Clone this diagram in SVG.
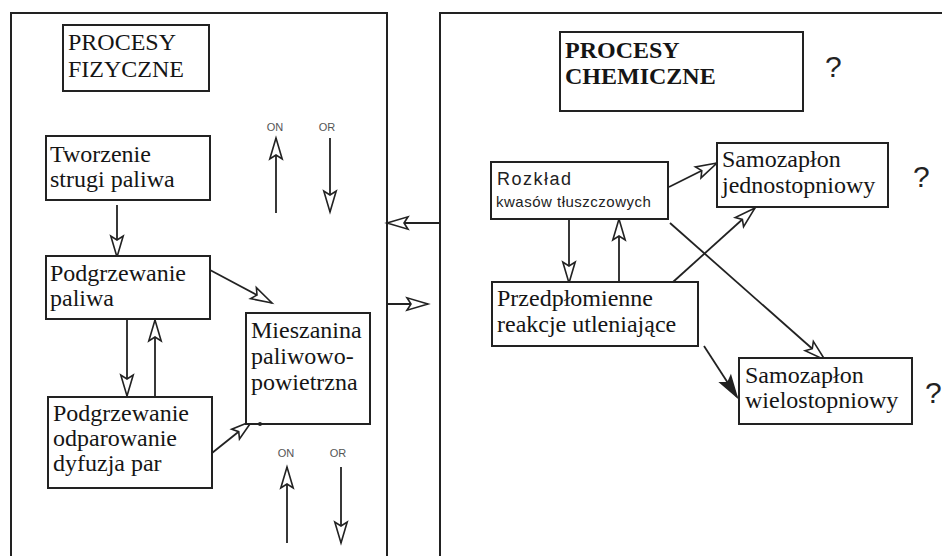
<svg xmlns="http://www.w3.org/2000/svg" width="942" height="556" viewBox="0 0 942 556">
<style>
.panel{fill:none;stroke:#222;stroke-width:2}
.box{fill:#fff;stroke:#222;stroke-width:2}
.t{font-family:"Liberation Serif","Times New Roman",serif;font-size:24px;fill:#151515}
.tb{font-family:"Liberation Serif","Times New Roman",serif;font-size:24px;font-weight:bold;fill:#151515}
.s{font-family:"Liberation Sans",Arial,sans-serif;fill:#222}
.lbl{font-family:"Liberation Sans",Arial,sans-serif;font-size:11px;fill:#555;text-anchor:middle}
.q{font-family:"Liberation Sans",Arial,sans-serif;font-size:30px;fill:#222}
.c{fill:none;stroke:#222;stroke-width:1.8}
.oa{marker-end:url(#open)}
.fa{marker-end:url(#filled)}
</style>
<defs>
<marker id="open" markerUnits="userSpaceOnUse" markerWidth="26" markerHeight="16" refX="22" refY="7" orient="auto" overflow="visible">
<path d="M22,7 L1,0.8 L5,7 L1,13.2 Z" fill="#fff" stroke="#222" stroke-width="1.6" stroke-linejoin="miter"/>
</marker>
<marker id="filled" markerUnits="userSpaceOnUse" markerWidth="26" markerHeight="16" refX="22" refY="7" orient="auto" overflow="visible">
<path d="M22,7 L1,0.8 L5,7 L1,13.2 Z" fill="#222" stroke="#222" stroke-width="1.5"/>
</marker>
</defs>
<rect width="942" height="556" fill="#fff"/>

<g id="panel-fizyczne">
<path class="panel" d="M11,556 V13 H387 V556"/>
</g>
<g id="panel-chemiczne">
<path class="panel" d="M440,556 V13 H942"/>
</g>

<g id="connectors">
<line class="c oa" x1="440" y1="223" x2="387" y2="223"/>
<line class="c oa" x1="387" y1="304" x2="428" y2="304"/>
<line class="c oa" x1="117" y1="205" x2="117" y2="257"/>
<line class="c oa" x1="127" y1="319" x2="127" y2="396"/>
<line class="c oa" x1="155" y1="397" x2="155" y2="320"/>
<line class="c oa" x1="210" y1="270" x2="272" y2="303"/>
<line class="c oa" x1="212" y1="453" x2="252" y2="421"/>
<line class="c oa" x1="276" y1="213" x2="276" y2="138"/>
<line class="c oa" x1="330" y1="138" x2="330" y2="212"/>
<line class="c oa" x1="287" y1="543" x2="287" y2="467"/>
<line class="c oa" x1="341" y1="467" x2="341" y2="543"/>
<line class="c oa" x1="569" y1="219" x2="569" y2="283"/>
<line class="c oa" x1="619" y1="282" x2="619" y2="219"/>
<line class="c oa" x1="669" y1="187" x2="717" y2="163"/>
<line class="c oa" x1="673" y1="282" x2="755" y2="208"/>
<line class="c oa" x1="670" y1="223" x2="825" y2="360"/>
<line class="c fa" x1="704" y1="346" x2="737" y2="397"/>
</g>

<g id="title-fizyczne">
<rect class="box" x="63" y="25" width="146" height="66"/>
<text class="t" x="68" y="50">PROCESY</text>
<text class="t" x="68" y="77" font-size="25">FIZYCZNE</text>
</g>

<g id="node-tworzenie">
<rect class="box" x="46" y="136" width="164" height="64"/>
<text class="t" x="50" y="162">Tworzenie</text>
<text class="t" x="50" y="187">strugi paliwa</text>
</g>

<g id="node-podgrzewanie-paliwa">
<rect class="box" x="46" y="256" width="164" height="63"/>
<text class="t" x="50" y="281">Podgrzewanie</text>
<text class="t" x="50" y="306">paliwa</text>
</g>

<g id="node-mieszanina">
<rect class="box" x="246" y="313" width="124" height="111"/>
<text class="t" x="251" y="338">Mieszanina</text>
<text class="t" x="251" y="364">paliwowo-</text>
<text class="t" x="251" y="390">powietrzna</text>
<circle cx="260" cy="424" r="2" fill="#222"/>
</g>

<g id="node-podgrzewanie-odparowanie">
<rect class="box" x="48" y="397" width="164" height="91"/>
<text class="t" x="53" y="421">Podgrzewanie</text>
<text class="t" x="53" y="446">odparowanie</text>
<text class="t" x="53" y="471">dyfuzja par</text>
</g>

<g id="labels-on-or">
<text class="lbl" x="275" y="131">ON</text>
<text class="lbl" x="327" y="131">OR</text>
<text class="lbl" x="286" y="457">ON</text>
<text class="lbl" x="338" y="457">OR</text>
</g>

<g id="title-chemiczne">
<rect class="box" x="560" y="32" width="243" height="79"/>
<text class="tb" x="565" y="58">PROCESY</text>
<text class="tb" x="565" y="84">CHEMICZNE</text>
<text class="q" x="825" y="77">?</text>
</g>

<g id="node-rozklad">
<rect class="box" x="491" y="162" width="177" height="57"/>
<text class="s" x="497" y="185" font-size="18" letter-spacing="1.5">Rozkład</text>
<text class="s" x="496" y="207" font-size="15" letter-spacing="0.5">kwasów tłuszczowych</text>
</g>

<g id="node-samozaplon-jedno">
<rect class="box" x="717" y="143" width="171" height="64"/>
<text class="t" x="722" y="167">Samozapłon</text>
<text class="t" x="722" y="193">jednostopniowy</text>
<text class="q" x="913" y="187">?</text>
</g>

<g id="node-przedplomienne">
<rect class="box" x="492" y="282" width="206" height="64"/>
<text class="t" x="497" y="306">Przedpłomienne</text>
<text class="t" x="497" y="332">reakcje utleniające</text>
</g>

<g id="node-samozaplon-wielo">
<rect class="box" x="739" y="358" width="173" height="66"/>
<text class="t" x="745" y="383">Samozapłon</text>
<text class="t" x="745" y="408">wielostopniowy</text>
<text class="q" x="925" y="403">?</text>
</g>
</svg>
